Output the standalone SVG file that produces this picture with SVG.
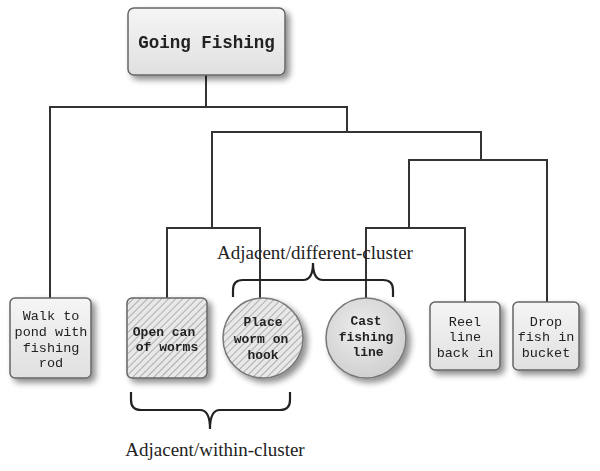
<svg xmlns="http://www.w3.org/2000/svg" width="600" height="471" viewBox="0 0 600 471">
<defs>
<style>
.ln{stroke:#333;stroke-width:2;fill:none;stroke-linecap:square}
.br{stroke:#222;stroke-width:2.2;fill:none}
.box{fill:url(#gbox);stroke:#666;stroke-width:1.5}
.hbox{fill:url(#hatch);stroke:#666;stroke-width:1.5}
.circ{fill:url(#gcirc);stroke:#777;stroke-width:1.5}
.hcirc{fill:url(#hatch);stroke:#777;stroke-width:1.5}
.t{font-family:"Liberation Mono","Courier New",monospace;font-size:13.5px;fill:#222;text-anchor:middle}
.tb{font-family:"Liberation Mono","Courier New",monospace;font-size:13px;font-weight:bold;fill:#222;text-anchor:middle}
.lab{font-family:"Liberation Serif","Times New Roman",serif;font-size:19px;fill:#222;text-anchor:middle}
</style>
<linearGradient id="gbox" x1="0" y1="0" x2="0" y2="1">
<stop offset="0" stop-color="#f5f5f5"/><stop offset="1" stop-color="#e0e0e0"/>
</linearGradient>
<radialGradient id="gcirc" cx="0.45" cy="0.4" r="0.6">
<stop offset="0" stop-color="#eeeeee"/><stop offset="1" stop-color="#d0d0d0"/>
</radialGradient>
<pattern id="hatch" width="5" height="5" patternUnits="userSpaceOnUse" patternTransform="rotate(45)">
<rect width="5" height="5" fill="#e8e8e8"/>
<line x1="0" y1="0" x2="0" y2="5" stroke="#8f8f8f" stroke-width="1.3"/>
</pattern>
<filter id="sh" x="-20%" y="-20%" width="150%" height="150%">
<feGaussianBlur in="SourceAlpha" stdDeviation="3"/>
<feOffset dx="4" dy="4" result="b"/>
<feComponentTransfer><feFuncA type="linear" slope="0.45"/></feComponentTransfer>
<feMerge><feMergeNode/><feMergeNode in="SourceGraphic"/></feMerge>
</filter>
</defs>
<rect width="600" height="471" fill="#fff"/>
<g id="connectors">
<path class="ln" d="M206 75V107M50 107H347M50 107V298M347 107V132M212 132H481M212 132V228M167 228H260M167 228V298M260 228V298M481 132V160M409 160H547M547 160V302M409 160V228M366 228H465M366 228V298M465 228V302"/>
</g>
<g id="root" filter="url(#sh)">
<rect class="box" x="128" y="8" width="157" height="67" rx="6"/>
<text class="tb" x="206.5" y="48" style="font-size:17.5px">Going Fishing</text>
</g>
<g id="walk" filter="url(#sh)">
<rect class="box" x="10" y="298" width="81" height="80" rx="5"/>
<text class="t" x="51" y="320">Walk to</text>
<text class="t" x="51" y="336">pond with</text>
<text class="t" x="51" y="352">fishing</text>
<text class="t" x="51" y="367">rod</text>
</g>
<g id="opencan" filter="url(#sh)">
<rect class="hbox" x="127" y="298" width="80" height="80" rx="5"/>
<text class="tb" x="164" y="336">Open can</text>
<text class="tb" x="167" y="351">of worms</text>
</g>
<g id="place" filter="url(#sh)">
<circle class="hcirc" cx="263" cy="338" r="40"/>
<text class="tb" x="263" y="326">Place</text>
<text class="tb" x="261" y="343">worm on</text>
<text class="tb" x="263" y="359">hook</text>
</g>
<g id="cast" filter="url(#sh)">
<circle class="circ" cx="366" cy="338" r="40"/>
<text class="tb" x="366" y="325">Cast</text>
<text class="tb" x="366" y="341">fishing</text>
<text class="tb" x="368" y="356">line</text>
</g>
<g id="reel" filter="url(#sh)">
<rect class="box" x="430" y="302" width="70" height="68" rx="5"/>
<text class="t" x="465" y="326">Reel</text>
<text class="t" x="465" y="341">line</text>
<text class="t" x="465" y="357">back in</text>
</g>
<g id="drop" filter="url(#sh)">
<rect class="box" x="513" y="302" width="66" height="68" rx="5"/>
<text class="t" x="546" y="326">Drop</text>
<text class="t" x="546" y="341">fish in</text>
<text class="t" x="546" y="357">bucket</text>
</g>
<g id="brace-different">
<path class="br" d="M233 297V290Q233 280 243 280H303Q313 280 313 263Q313 280 323 280H383Q393 280 393 290V297"/>
<text class="lab" x="315" y="259">Adjacent/different-cluster</text>
</g>
<g id="brace-within">
<path class="br" d="M131 392V400Q131 410 141 410H200Q210 410 210 429Q210 410 220 410H280Q290 410 290 400V392"/>
<text class="lab" x="215" y="456">Adjacent/within-cluster</text>
</g>
</svg>
